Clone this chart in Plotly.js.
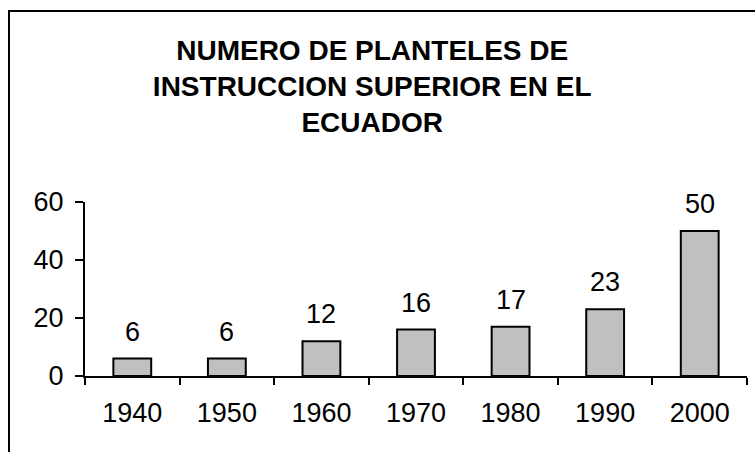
<!DOCTYPE html>
<html>
<head>
<meta charset="utf-8">
<script src="https://cdn.plot.ly/plotly-3.0.1.min.js"></script>
<style>
  html, body { margin: 0; padding: 0; background: #fff; }
  #wrap { position: relative; width: 755px; height: 452px; overflow: hidden; }
  #chart { position: absolute; left: 0; top: 0; width: 755px; height: 452px; }
  #frame { position: absolute; left: 8px; top: 10px; width: 800px; height: 500px;
           border-left: 2px solid #000; border-top: 2px solid #000; pointer-events: none; }
</style>
</head>
<body>
<div id="wrap">
  <div id="chart"></div>
  <div id="frame"></div>
</div>
<script>
const years = ["1940", "1950", "1960", "1970", "1980", "1990", "2000"];
const planteles = [6, 6, 12, 16, 17, 23, 50];
const yTicks = [0, 20, 40, 60];
const titleText = "NUMERO DE PLANTELES DE<br>INSTRUCCION SUPERIOR EN EL<br>ECUADOR";

const FONT = "Liberation Sans, Arial, sans-serif";

const trace = {
  type: "bar",
  x: years,
  y: planteles,
  marker: { color: "#c0c0c0", line: { color: "#000", width: 2 } },
  hoverinfo: "x+y"
};

const annotations = years.map((yr, i) => ({
  x: i, y: planteles[i], xref: "x", yref: "y",
  text: String(planteles[i]), showarrow: false,
  yanchor: "bottom", yshift: 10,
  font: { family: FONT, size: 27, color: "#000" }
}));

const layout = {
  width: 755, height: 452,
  paper_bgcolor: "#fff", plot_bgcolor: "#fff",
  margin: { l: 85, r: 8, t: 202, b: 76 },
  showlegend: false,
  bargap: 0.6,
  title: {
    text: titleText,
    font: { family: FONT, size: 28, color: "#000", weight: "bold" },
    x: 0.493, xanchor: "center",
    y: 0.868, yanchor: "top", yref: "container"
  },
  xaxis: {
    type: "category",
    categoryorder: "array", categoryarray: years,
    range: [-0.5, years.length - 0.5],
    showline: true, linecolor: "#000", linewidth: 2,
    ticks: "outside", tickson: "boundaries", ticklen: 7, tickwidth: 2, tickcolor: "#000",
    ticklabelstandoff: 12,
    tickfont: { family: FONT, size: 27, color: "#000" },
    showgrid: false, zeroline: false
  },
  yaxis: {
    range: [0, 60],
    tickvals: yTicks, ticktext: yTicks.map(String),
    showline: true, linecolor: "#000", linewidth: 2,
    ticks: "outside", ticklen: 8, tickwidth: 2, tickcolor: "#000",
    ticklabelstandoff: 6,
    tickfont: { family: FONT, size: 27, color: "#000" },
    showgrid: false, zeroline: false
  },
  annotations: annotations
};

Plotly.newPlot("chart", [trace], layout, { displayModeBar: false, staticPlot: true });
</script>
</body>
</html>
